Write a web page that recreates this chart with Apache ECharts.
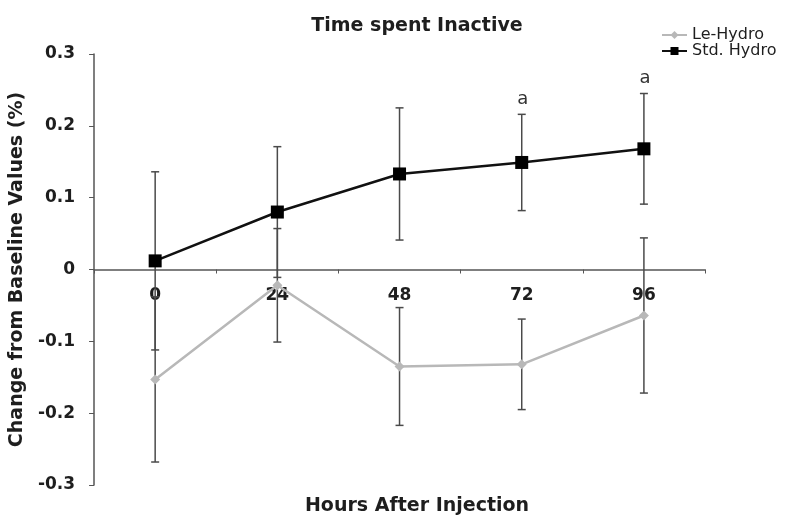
<!DOCTYPE html>
<html>
<head>
<meta charset="utf-8">
<script src="https://cdn.jsdelivr.net/npm/echarts@6/dist/echarts.min.js"></script>
<style>
  html, body { margin: 0; padding: 0; background: #fff; }
  #chart { width: 785px; height: 518px; }
</style>
</head>
<body>
<div id="chart"></div>
<script>
const hours = ['0', '24', '48', '72', '96'];

const leMean = [-0.153, -0.022, -0.135, -0.132, -0.064];
const leErr = [0.115, 0.079, 0.082, 0.063, 0.108];

const stdMean = [0.012, 0.080, 0.133, 0.149, 0.168];
const stdErr = [0.124, 0.091, 0.092, 0.067, 0.077];

const sigLabels = ['', '', '', 'a', 'a'];

const FONT = 'DejaVu Sans';
const INK = '#1e1e1e';

/** build [index, low, high, label] rows for the error bars */
const errRows = (mean, err, labels) =>
    mean.map((m, i) => [i, m - err[i], m + err[i], labels ? labels[i] : '']);

const renderErr = (params, api) => {
    const x = api.value(0);
    const lo = api.coord([x, api.value(1)]);
    const hi = api.coord([x, api.value(2)]);
    const cap = 4;
    const style = { stroke: '#4a4a4a', lineWidth: 1.5 };
    const children = [
        { type: 'line', shape: { x1: lo[0], y1: lo[1], x2: hi[0], y2: hi[1] }, style },
        { type: 'line', shape: { x1: lo[0] - cap, y1: lo[1], x2: lo[0] + cap, y2: lo[1] }, style },
        { type: 'line', shape: { x1: hi[0] - cap, y1: hi[1], x2: hi[0] + cap, y2: hi[1] }, style },
    ];
    const lab = api.value(3);
    if (lab) {
        children.push({
            type: 'text',
            x: hi[0] + 1,
            y: hi[1] - 6,
            style: {
                text: lab, fill: '#333', font: '18px ' + FONT,
                align: 'center', verticalAlign: 'bottom',
            },
        });
    }
    return { type: 'group', children };
};

const chart = echarts.init(document.getElementById('chart'));
chart.setOption({
    animation: false,
    textStyle: { fontFamily: FONT },
    title: [
        {
            text: 'Time spent Inactive',
            left: 412, top: 12, textAlign: 'center',
            textStyle: { fontSize: 19, fontWeight: 'bold', color: INK, fontFamily: FONT },
        },
        {
            text: 'Hours After Injection',
            left: 412, top: 492, textAlign: 'center',
            textStyle: { fontSize: 19, fontWeight: 'bold', color: INK, fontFamily: FONT },
        },
    ],
    legend: {
        orient: 'vertical',
        left: 656, top: 22,
        itemGap: 0,
        itemWidth: 25, itemHeight: 10,
        textStyle: { fontSize: 16, color: INK, fontFamily: FONT },
        data: ['Le-Hydro', 'Std. Hydro'],
    },
    grid: { left: 92, right: 80, top: 54, bottom: 33 },
    xAxis: {
        type: 'category',
        data: hours,
        boundaryGap: true,
        offset: -215.5,
        axisLine: { onZero: false, lineStyle: { color: '#555', width: 1.5 } },
        axisTick: { show: true, length: 4, lineStyle: { color: '#555' } },
        axisLabel: { fontSize: 17, fontWeight: 'bold', color: INK, margin: 18, fontFamily: FONT },
        splitLine: { show: false },
    },
    yAxis: {
        type: 'value',
        min: -0.3, max: 0.3, interval: 0.1,
        name: 'Change from Baseline Values (%)',
        nameLocation: 'middle',
        nameGap: 55,
        nameTextStyle: { fontSize: 19, fontWeight: 'bold', color: INK, fontFamily: FONT },
        axisLine: { show: true, lineStyle: { color: '#555', width: 1.5 } },
        axisTick: { show: true, length: 5, lineStyle: { color: '#555' } },
        axisLabel: {
            fontSize: 17, fontWeight: 'bold', color: INK, margin: 19, fontFamily: FONT,
            formatter: (v) => (Math.abs(v) < 1e-9 ? '0' : v.toFixed(1)),
        },
        splitLine: { show: false },
    },
    series: [
        {
            type: 'custom',
            name: 'leErr',
            renderItem: renderErr,
            data: errRows(leMean, leErr),
            z: 1,
            silent: true,
        },
        {
            type: 'custom',
            name: 'stdErr',
            renderItem: renderErr,
            data: errRows(stdMean, stdErr, sigLabels),
            z: 1,
            silent: true,
        },
        {
            name: 'Le-Hydro',
            type: 'line',
            data: leMean,
            symbol: 'diamond',
            symbolSize: 10,
            itemStyle: { color: '#b8b8b8' },
            lineStyle: { color: '#b8b8b8', width: 2.5 },
            z: 3,
        },
        {
            name: 'Std. Hydro',
            type: 'line',
            data: stdMean,
            symbol: 'rect',
            symbolSize: 13,
            itemStyle: { color: '#000' },
            lineStyle: { color: '#111', width: 2.5 },
            z: 4,
        },
    ],
});
</script>
</body>
</html>
